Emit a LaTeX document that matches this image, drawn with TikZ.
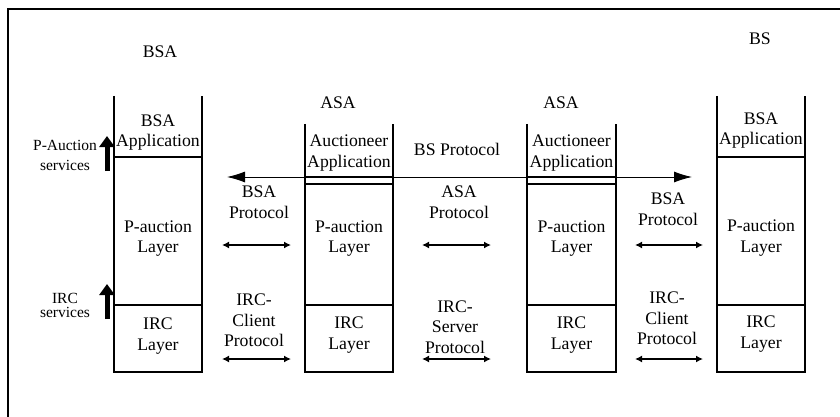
\documentclass[tikz,border=0pt]{standalone}
\usepackage{fontspec}
\setmainfont{Liberation Serif}
\usetikzlibrary{arrows.meta}
\begin{document}
\begin{tikzpicture}[x=1pt,y=-1pt,
  lbl/.style={font=\fontsize{17.7}{20.5}\selectfont, align=center, inner sep=0pt},
  side/.style={font=\fontsize{15.5}{20}\selectfont, align=center, inner sep=0pt},
  stackline/.style={line width=1.1pt},
  frameline/.style={line width=1.1pt},
  proto/.style={line width=1.6pt, {Latex[length=7pt,width=7pt]}-{Latex[length=7pt,width=7pt]}},
  bsproto/.style={line width=0.9pt, {Latex[length=18pt,width=11pt]}-{Latex[length=18pt,width=11pt]}},
  svc/.style={line width=5pt, -{Triangle[length=11pt,width=15pt]}}]
\useasboundingbox (0,0) rectangle (840,417);
% frame
\draw[frameline] (8,417) -- (8,9) -- (840,9);

% stack 1 (BSA)
\draw[stackline] (114,96) -- (114,372) -- (202,372) -- (202,96);
\draw[stackline] (114,157) -- (202,157);
\draw[stackline] (114,305) -- (202,305);
% stack 2 (ASA)
\draw[stackline] (305,124) -- (305,372) -- (393,372) -- (393,124);
\draw[stackline] (305,177) -- (393,177);
\draw[stackline] (305,184) -- (393,184);
\draw[stackline] (305,305) -- (393,305);
% stack 3 (ASA)
\draw[stackline] (527,124) -- (527,372) -- (616,372) -- (616,124);
\draw[stackline] (527,177) -- (616,177);
\draw[stackline] (527,184) -- (616,184);
\draw[stackline] (527,305) -- (616,305);
% stack 4 (BS)
\draw[stackline] (717,96) -- (717,372) -- (805,372) -- (805,96);
\draw[stackline] (717,157) -- (805,157);
\draw[stackline] (717,305) -- (805,305);

% titles
\node[lbl] (tBSA) at (160,52) {BSA};
\node[lbl] (tASA1) at (338,103) {ASA};
\node[lbl] (tASA2) at (561,103) {ASA};
\node[lbl] (tBS) at (760,39) {BS};

% stack 1 texts
\node[lbl] (s1app) at (158,132.5) {BSA\\Application};
\node[lbl] (s1pa) at (158,238.5) {P-auction\\Layer};
\node[lbl] (s1irc) at (158,336) {IRC\\Layer};
% stack 2 texts
\node[lbl] (s2app) at (349,153) {Auctioneer\\Application};
\node[lbl] (s2pa) at (349,238.5) {P-auction\\Layer};
\node[lbl] (s2irc) at (349,335) {IRC\\Layer};
% stack 3 texts
\node[lbl] (s3app) at (571.5,153) {Auctioneer\\Application};
\node[lbl] (s3pa) at (571.5,238.5) {P-auction\\Layer};
\node[lbl] (s3irc) at (571.5,335) {IRC\\Layer};
% stack 4 texts
\node[lbl] (s4app) at (761,130.5) {BSA\\Application};
\node[lbl] (s4pa) at (761,238) {P-auction\\Layer};
\node[lbl] (s4irc) at (761,334) {IRC\\Layer};

% protocol labels
\node[lbl] (bsp) at (457,149) {BS Protocol};
\node[lbl] (bsa1) at (259,202) {BSA\\Protocol};
\node[lbl] (ircc1) at (254,320.5) {IRC-\\Client\\Protocol};
\node[lbl] (asap) at (459,202) {ASA\\Protocol};
\node[lbl] (ircs) at (455,327) {IRC-\\Server\\Protocol};
\node[lbl] (bsa2) at (668,209) {BSA\\Protocol};
\node[lbl] (ircc2) at (667,318.5) {IRC-\\Client\\Protocol};

% side labels
\node[side] (pas) at (65,155) {P-Auction\\services};
\node[side, font=\fontsize{15.5}{14}\selectfont] (ircsv) at (65,305) {IRC\\services};

% coordinates for connectors
\coordinate (bsL) at (227,177);
\coordinate (bsR) at (692,177);
\coordinate (p1a) at (222,245); \coordinate (p1b) at (291,245);
\coordinate (c1a) at (222,359); \coordinate (c1b) at (291,359);
\coordinate (p2a) at (422,245); \coordinate (p2b) at (491,245);
\coordinate (c2a) at (422,359); \coordinate (c2b) at (491,359);
\coordinate (p3a) at (635,245); \coordinate (p3b) at (703,245);
\coordinate (c3a) at (635,359); \coordinate (c3b) at (703,359);
\coordinate (u1a) at (107,171); \coordinate (u1b) at (107,136);
\coordinate (u2a) at (107,319); \coordinate (u2b) at (107,284);

% connectors
\draw[bsproto] (bsL) -- (bsR);
\draw[proto] (p1a) -- (p1b);
\draw[proto] (c1a) -- (c1b);
\draw[proto] (p2a) -- (p2b);
\draw[proto] (c2a) -- (c2b);
\draw[proto] (p3a) -- (p3b);
\draw[proto] (c3a) -- (c3b);
\draw[svc] (u1a) -- (u1b);
\draw[svc] (u2a) -- (u2b);
\end{tikzpicture}
\end{document}
